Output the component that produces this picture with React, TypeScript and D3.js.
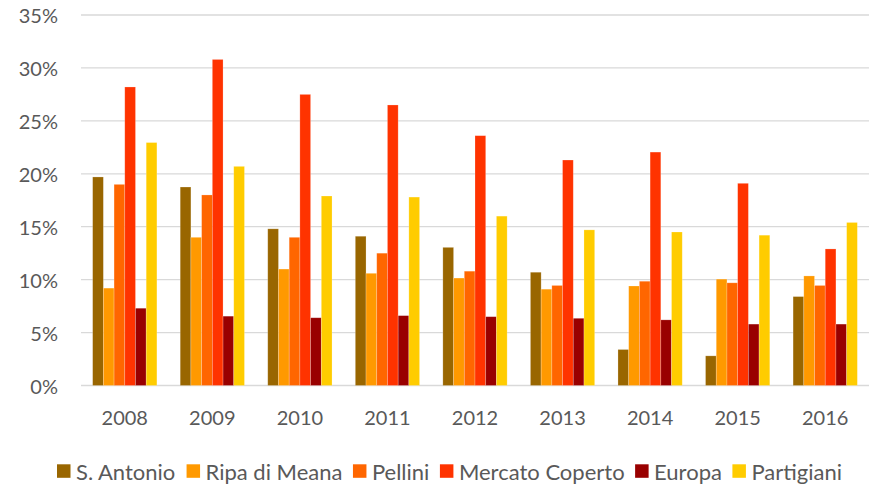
import React from "react";
import * as d3 from "d3";

const years = ["2008", "2009", "2010", "2011", "2012", "2013", "2014", "2015", "2016"];
const seriesNames = ["S. Antonio", "Ripa di Meana", "Pellini", "Mercato Coperto", "Europa", "Partigiani"];
const seriesColors = ["#996600", "#FF9900", "#FF6600", "#FF3300", "#990000", "#FFCC00"];

const sAntonio = [19.7, 18.75, 14.8, 14.1, 13.05, 10.7, 3.4, 2.8, 8.4];
const ripaDiMeana = [9.2, 14.0, 11.0, 10.6, 10.15, 9.1, 9.4, 10.05, 10.35];
const pellini = [19.0, 18.0, 14.0, 12.5, 10.8, 9.45, 9.85, 9.7, 9.45];
const mercatoCoperto = [28.2, 30.8, 27.5, 26.5, 23.6, 21.3, 22.05, 19.1, 12.9];
const europa = [7.3, 6.55, 6.4, 6.6, 6.5, 6.35, 6.2, 5.8, 5.8];
const partigiani = [22.95, 20.7, 17.9, 17.8, 16.0, 14.7, 14.5, 14.2, 15.4];

const seriesValues = [sAntonio, ripaDiMeana, pellini, mercatoCoperto, europa, partigiani];
const yTicks = [0, 5, 10, 15, 20, 25, 30, 35];

const W = 873;
const H = 485;
const FONT = "Lato, 'Open Sans', sans-serif";
const TEXT_COLOR = "#595959";

function measure(text: string, size: number) {
  if (typeof document === "undefined") return text.length * size * 0.5;
  const c = document.createElement("canvas");
  const ctx = c.getContext("2d");
  if (!ctx) return text.length * size * 0.5;
  ctx.font = `${size}px Lato`;
  return ctx.measureText(text).width;
}

export default function App() {
  const left = 81;
  const right = 869;
  const top = 15;
  const bottom = 385.5;

  const x0 = d3
    .scaleBand<string>()
    .domain(years)
    .range([left, right])
    .paddingInner(0.266)
    .paddingOuter(0.133);
  const x1 = d3
    .scaleBand<string>()
    .domain(seriesNames)
    .range([0, x0.bandwidth()])
    .padding(0);
  const y = d3.scaleLinear().domain([0, 35]).range([bottom, top]);

  // legend layout
  const legendSize = 22;
  const sq = 13.5;
  let lx = 57;
  const legendItems = seriesNames.map((name, i) => {
    const item = { name, color: seriesColors[i], x: lx };
    lx += sq + 5.5 + measure(name, legendSize) + 10.5;
    return item;
  });

  return (
    <svg width={W} height={H} style={{ display: "block", position: "absolute", left: 0, top: 0, background: "#fff" }}>
      <rect x={0} y={0} width={W} height={H} fill="#fff" />
      {yTicks.map((t) => (
        <g key={t}>
          <line x1={left} x2={right} y1={y(t)} y2={y(t)} stroke="#D9D9D9" strokeWidth={1.3} />
          <text
            x={58}
            y={y(t)}
            textAnchor="end"
            dominantBaseline="central"
            fontFamily={FONT}
            fontSize={20}
            fill={TEXT_COLOR}
          >
            {t}%
          </text>
        </g>
      ))}
      {years.map((yr, yi) => (
        <g key={yr} transform={`translate(${x0(yr)},0)`}>
          {seriesNames.map((s, si) => {
            const v = seriesValues[si][yi];
            return (
              <rect
                key={s}
                x={x1(s)}
                y={y(v)}
                width={x1.bandwidth()}
                height={y(0) - y(v)}
                fill={seriesColors[si]}
                stroke="#ffffff"
                strokeOpacity={0.3}
                strokeWidth={0.7}
              />
            );
          })}
          <text
            x={x0.bandwidth() / 2}
            y={417}
            textAnchor="middle"
            dominantBaseline="central"
            fontFamily={FONT}
            fontSize={20}
            fill={TEXT_COLOR}
          >
            {yr}
          </text>
        </g>
      ))}
      {legendItems.map((it) => (
        <g key={it.name}>
          <rect x={it.x} y={464.3} width={sq} height={sq} fill={it.color} />
          <text
            x={it.x + sq + 5.5}
            y={471}
            dominantBaseline="central"
            fontFamily={FONT}
            fontSize={legendSize}
            fill={TEXT_COLOR}
          >
            {it.name}
          </text>
        </g>
      ))}
    </svg>
  );
}
